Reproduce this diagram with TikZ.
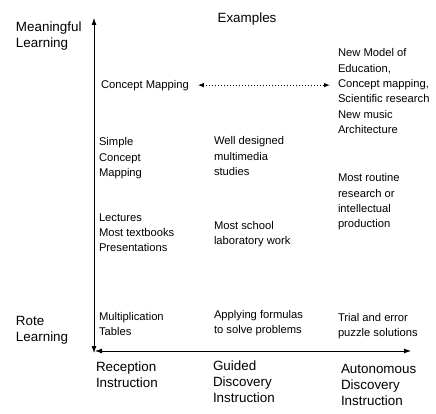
\documentclass[tikz,border=0pt]{standalone}
\usepackage{fontspec}
\setmainfont{Liberation Sans}
\usetikzlibrary{arrows.meta}
\begin{document}
\begin{tikzpicture}[x=1pt,y=-1pt,inner sep=0pt,outer sep=0pt,line width=0.8pt,>={Latex[length=7pt,width=5pt]},
axislbl/.style={anchor=base west,align=left,font=\fontsize{13.4}{16}\selectfont},
example/.style={anchor=base west,align=left,font=\fontsize{11.2}{15.3}\selectfont}]

\useasboundingbox (0,0) rectangle (436,414);
\coordinate (top) at (94,18);
\coordinate (bottom) at (94,353);
\coordinate (left) at (95,351);
\coordinate (right) at (411,351);
\draw[<->] (top) -- (bottom);
\draw[<->] (left) -- (right);

% node positions are the baselines of the last lines
\draw (16,48) node[axislbl] (meaning) {Meaningful\\Learning};
\draw (16,341) node[axislbl] (rote) {Rote\\Learning};
\draw (247,23) node[axislbl,anchor=base] (head) {Examples};
\draw (96,387) node[axislbl] (recept) {Reception\\Instruction};
\draw (213,402) node[axislbl] (guided) {Guided\\Discovery\\Instruction};
\draw (341,405) node[axislbl] (auto) {Autonomous\\Discovery\\Instruction};

\draw (101,89) node[example] (cmap) {Concept Mapping};
\draw (338,133.5) node[example] (newmodel) {New Model of\\Education,\\Concept mapping,\\Scientific research\\New music\\Architecture};
\draw (99,176.6) node[example] (simple) {Simple\\Concept\\Mapping};
\draw (214,175.6) node[example] (multimedia) {Well designed\\multimedia\\studies};
\draw (338,227.9) node[example] (routine) {Most routine\\research or\\intellectual\\production};
\draw (99,251.6) node[example] (lectures) {Lectures\\Most textbooks\\Presentations};
\draw (214,244.3) node[example] (lab) {Most school\\laboratory work};
\draw (99,335.3) node[example] (tables) {Multiplication\\Tables};
\draw (214,333.3) node[example] (formulas) {Applying formulas\\to solve problems};
\draw (338,336.3) node[example] (trial) {Trial and error\\puzzle solutions};

\draw[<->,dotted,line width=1pt,>={Latex[length=6pt,width=4.5pt]}] ([xshift=9pt,yshift=1pt]cmap.east) -- ([xshift=-8pt,yshift=1pt]cmap.east -| newmodel.west);
\end{tikzpicture}
\end{document}
